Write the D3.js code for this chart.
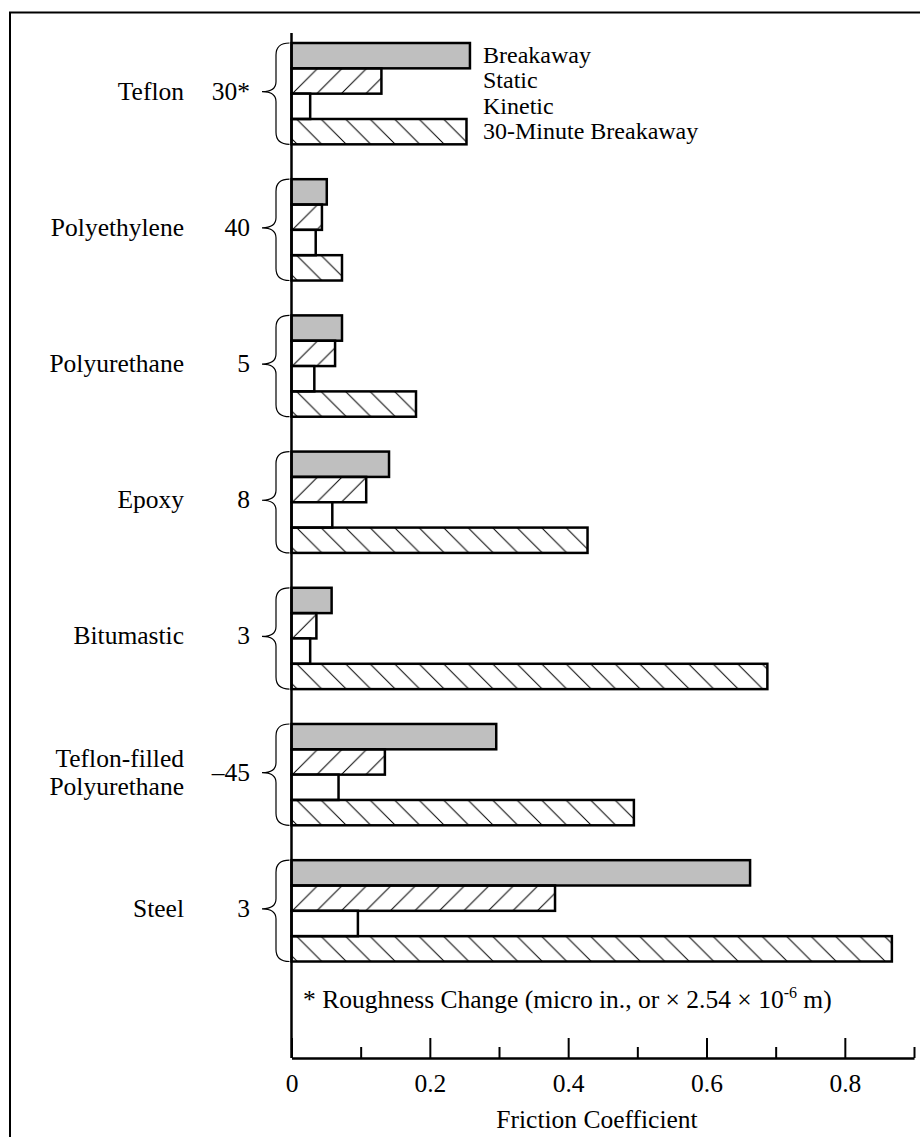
<!DOCTYPE html>
<html>
<head>
<meta charset="utf-8">
<script src="https://cdn.jsdelivr.net/npm/d3@7"></script>
<style>
  html, body { margin: 0; padding: 0; background: #fff; }
</style>
</head>
<body>
<div id="chart"></div>
<script>
// Coatings, top to bottom
const categories = ['Teflon', 'Polyethylene', 'Polyurethane', 'Epoxy', 'Bitumastic', 'Teflon-filled Polyurethane', 'Steel'];
const categoryLines = [['Teflon'], ['Polyethylene'], ['Polyurethane'], ['Epoxy'], ['Bitumastic'], ['Teflon-filled', 'Polyurethane'], ['Steel']];
const roughness = ['30*', '40', '5', '8', '3', '\u201345', '3'];

const series = ['Breakaway', 'Static', 'Kinetic', '30-Minute Breakaway'];
const breakaway = [0.258, 0.051, 0.073, 0.141, 0.058, 0.296, 0.663];
const staticF = [0.130, 0.044, 0.063, 0.108, 0.036, 0.135, 0.381];
const kinetic = [0.027, 0.035, 0.033, 0.059, 0.027, 0.068, 0.096];
const breakaway30 = [0.253, 0.073, 0.180, 0.428, 0.688, 0.495, 0.868];

const majorTicks = [0, 0.2, 0.4, 0.6, 0.8];
const minorTicks = [0.1, 0.3, 0.5, 0.7, 0.9];

const FONT = '"Liberation Serif", "Times New Roman", Times, serif';
const FS = 25.5;
const W = 920, H = 1137;
const svg = d3.select('#chart').append('svg')
  .attr('width', W)
  .attr('height', H)
  .attr('font-family', FONT);

// hatch patterns
const defs = svg.append('defs');
const step = 24.5;
defs.append('pattern')
  .attr('id', 'fwd')
  .attr('patternUnits', 'userSpaceOnUse')
  .attr('width', step).attr('height', step)
  .append('path')
  .attr('d', `M0,${step} L${step},0 M${-step / 2},${step / 2} L${step / 2},${-step / 2} M${step / 2},${step * 1.5} L${step * 1.5},${step / 2}`)
  .attr('stroke', '#000').attr('stroke-width', 1);
defs.append('pattern')
  .attr('id', 'back')
  .attr('patternUnits', 'userSpaceOnUse')
  .attr('width', step).attr('height', step)
  .append('path')
  .attr('d', `M0,0 L${step},${step} M${-step / 2},${step / 2} L${step / 2},${step * 1.5} M${step / 2},${-step / 2} L${step * 1.5},${step / 2}`)
  .attr('stroke', '#000').attr('stroke-width', 1);

const fills = {
  'Breakaway': '#bfbfbf',
  'Static': 'url(#fwd)',
  'Kinetic': '#fff',
  '30-Minute Breakaway': 'url(#back)'
};

// outer frame (runs off the right and bottom)
svg.append('rect')
  .attr('x', 10).attr('y', 12.5)
  .attr('width', W).attr('height', H)
  .attr('fill', 'none')
  .attr('stroke', '#000')
  .attr('stroke-width', 2);

// scales
const x = d3.scaleLinear().domain([0, 0.9]).range([291.5, 914]);
const y = d3.scaleBand().domain(categories).range([43, 961.5]).paddingInner(0.256).paddingOuter(0);
const ySub = d3.scaleBand().domain(series).range([0, y.bandwidth()]);

const axisY = 1058;

function addText(sel, size) {
  return sel.append('text')
    .attr('font-family', FONT)
    .style('font-family', FONT)
    .style('font-size', size + 'px')
    .attr('fill', '#000');
}

// bars
const values = { 'Breakaway': breakaway, 'Static': staticF, 'Kinetic': kinetic, '30-Minute Breakaway': breakaway30 };
categories.forEach((cat, i) => {
  const g = svg.append('g').attr('transform', `translate(0,${y(cat)})`);
  g.selectAll('rect')
    .data(series)
    .join('rect')
    .attr('x', x(0))
    .attr('y', s => ySub(s))
    .attr('width', s => x(values[s][i]) - x(0))
    .attr('height', ySub.bandwidth())
    .attr('fill', s => fills[s])
    .attr('stroke', '#000')
    .attr('stroke-width', 2.5);
});

// braces, roughness numbers, labels
const xr = x(0) - 2, xv = 276, xt = 262;
categories.forEach((cat, i) => {
  const t = y(cat), b = y(cat) + y.bandwidth(), m = (t + b) / 2 - 2;
  svg.append('path')
    .attr('d', `M${xr},${t} C${xv + 5},${t} ${xv},${t + 3} ${xv},${t + 12}
      L${xv},${m - 10} C${xv},${m - 3} ${xv - 5},${m} ${xt},${m}
      C${xv - 5},${m} ${xv},${m + 3} ${xv},${m + 10}
      L${xv},${b - 12} C${xv},${b - 3} ${xv + 5},${b} ${xr},${b}`)
    .attr('fill', 'none')
    .attr('stroke', '#000')
    .attr('stroke-width', 1.2);

  addText(svg, FS)
    .attr('x', 250)
    .attr('y', m + 8)
    .attr('text-anchor', 'end')
    .text(roughness[i]);

  const lines = categoryLines[i];
  lines.forEach((ln, j) => {
    addText(svg, FS)
      .attr('x', 184)
      .attr('y', lines.length === 1 ? m + 8 : m - 6 + j * 28)
      .attr('text-anchor', 'end')
      .text(ln);
  });
});

// legend beside the first group (tight rows, one per bar)
const legend = svg.append('g')
  .attr('transform', `translate(483,${y(categories[0])})`);
series.forEach(s => {
  addText(legend, 24)
    .attr('x', 0)
    .attr('y', ySub(s) + ySub.bandwidth() / 2 + 7.5)
    .text(s);
});

// y axis line
svg.append('line')
  .attr('x1', x(0)).attr('x2', x(0))
  .attr('y1', 33).attr('y2', axisY)
  .attr('stroke', '#000')
  .attr('stroke-width', 2.5);

// x axis: major ticks with labels, minor ticks without
const xAxisMajor = d3.axisBottom(x)
  .tickValues(majorTicks)
  .tickSizeInner(-20)
  .tickSizeOuter(0)
  .tickPadding(16)
  .tickFormat(d => d === 0 ? '0' : d3.format('.1f')(d));

const gx = svg.append('g')
  .attr('transform', `translate(0,${axisY})`)
  .call(xAxisMajor);
gx.attr('font-family', FONT);
gx.select('.domain').attr('stroke-width', 2.5);
gx.selectAll('.tick line').attr('stroke-width', 2);
gx.selectAll('.tick text')
  .style('font-size', FS + 'px')
  .style('font-family', FONT);

const gxMinor = svg.append('g')
  .attr('transform', `translate(0,${axisY})`)
  .call(d3.axisBottom(x).tickValues(minorTicks).tickSizeInner(-11).tickSizeOuter(0).tickFormat(''));
gxMinor.select('.domain').remove();
gxMinor.selectAll('.tick line').attr('stroke-width', 2);

addText(svg, FS)
  .attr('x', 597)
  .attr('y', 1128)
  .attr('text-anchor', 'middle')
  .text('Friction Coefficient');

// footnote
const note = addText(svg, FS)
  .attr('x', 303)
  .attr('y', 1008);
note.append('tspan').text('* Roughness Change (micro in., or \u00d7 2.54 \u00d7 10');
note.append('tspan').attr('dy', -10).style('font-size', '16px').text('-6');
note.append('tspan').attr('dy', 10).text(' m)');
</script>
</body>
</html>
